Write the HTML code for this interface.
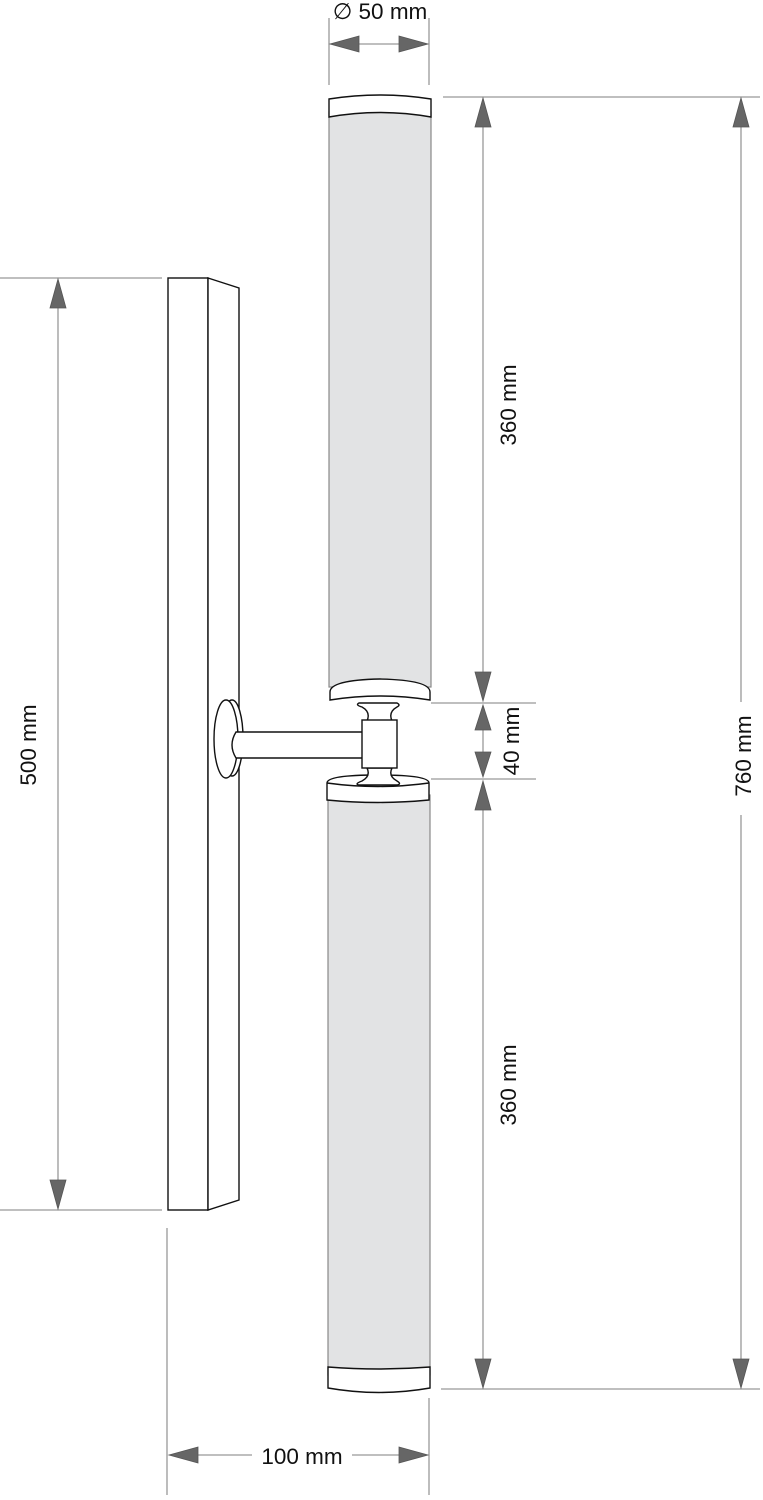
<!DOCTYPE html>
<html><head><meta charset="utf-8"><style>html,body{margin:0;padding:0;background:#fff}svg{display:block}text{font-family:"Liberation Sans",Arial,sans-serif;font-size:22.5px;fill:#111}</style></head>
<body>
<svg width="763" height="1500" viewBox="0 0 763 1500" xmlns="http://www.w3.org/2000/svg">
<g stroke="#999" stroke-width="1.3" fill="none">
<line x1="0" y1="278" x2="162" y2="278"/><line x1="0" y1="1210" x2="162" y2="1210"/>
<line x1="58" y1="300" x2="58" y2="1190"/>
<line x1="443" y1="97" x2="760" y2="97"/><line x1="441" y1="1389" x2="760" y2="1389"/>
<line x1="431" y1="703" x2="536" y2="703"/><line x1="431" y1="779" x2="536" y2="779"/>
<line x1="483" y1="120" x2="483" y2="680"/><line x1="483" y1="800" x2="483" y2="1370"/>
<line x1="483" y1="720" x2="483" y2="760"/>
<line x1="741" y1="120" x2="741" y2="702"/><line x1="741" y1="815" x2="741" y2="1370"/>
<line x1="329" y1="18" x2="329" y2="85"/><line x1="429" y1="18" x2="429" y2="85"/>
<line x1="350" y1="44" x2="410" y2="44"/>
<line x1="167" y1="1228" x2="167" y2="1495"/><line x1="429" y1="1398" x2="429" y2="1495"/>
<line x1="185" y1="1455" x2="252" y2="1455"/><line x1="352" y1="1455" x2="412" y2="1455"/>
</g>
<g fill="#666" stroke="#555" stroke-width="0.8">
<polygon points="58,279 50,308 66,308"/><polygon points="58,1209 50,1180 66,1180"/>
<polygon points="483,98 475,127 491,127"/><polygon points="483,701 475,672 491,672"/>
<polygon points="483,705 475,730 491,730"/><polygon points="483,777 475,752 491,752"/>
<polygon points="483,781 475,810 491,810"/><polygon points="483,1388 475,1359 491,1359"/>
<polygon points="741,98 733,127 749,127"/><polygon points="741,1388 733,1359 749,1359"/>
<polygon points="330,44 359,36 359,52"/><polygon points="428,44 399,36 399,52"/>
<polygon points="169,1455 198,1447 198,1463"/><polygon points="428,1455 399,1447 399,1463"/>
</g>
<rect x="329" y="112" width="102" height="575" fill="#e2e3e4" stroke="#888" stroke-width="1.2"/>
<rect x="328" y="795" width="102" height="580" fill="#e2e3e4" stroke="#888" stroke-width="1.2"/>
<g stroke="#111" stroke-width="1.4" fill="#fff">
<path d="M329,99 Q380,91 431,99 L431,117 Q380,108 329,117 Z"/>
<path d="M330,692 Q330,680 380,679 Q430,680 430,692 L430,700 Q380,692 330,700 Z"/>
<path d="M327,783 Q327,775 378,775 Q429,775 429,783 L429,800 Q378,805 327,800 Z"/>
<path d="M327,783 Q378,790 429,783" fill="none"/>
<path d="M328,1367 Q379,1371 430,1367 L430,1388 Q379,1397 328,1388 Z"/>
<rect x="168" y="278" width="40" height="932"/>
<path d="M208,278 L239,288 L239,1200 L208,1210 Z"/>
<ellipse cx="232" cy="738" rx="11" ry="38"/>
<ellipse cx="226" cy="739" rx="12" ry="39"/>
<path d="M362,732 L236,732 Q228,745 236,758 L362,758"/>
<path d="M359,703 L397,703 Q401,705 397,707 Q388,712 392,721 L367,721 Q371,712 362,707 Q355,705 359,703 Z"/>
<path d="M367,768 L392,768 Q388,776 397,781 Q402,784 397,785 L359,785 Q354,784 362,781 Q371,776 367,768 Z"/>
<rect x="362" y="720" width="35" height="48"/>
</g>
<text x="380" y="19" text-anchor="middle">∅ 50 mm</text>
<text x="302" y="1464" text-anchor="middle">100 mm</text>
<text transform="translate(36,745) rotate(-90)" text-anchor="middle">500 mm</text>
<text transform="translate(516,405) rotate(-90)" text-anchor="middle">360 mm</text>
<text transform="translate(516,1085) rotate(-90)" text-anchor="middle">360 mm</text>
<text transform="translate(519,741) rotate(-90)" text-anchor="middle">40 mm</text>
<text transform="translate(751,756) rotate(-90)" text-anchor="middle">760 mm</text>
</svg>
</body></html>
